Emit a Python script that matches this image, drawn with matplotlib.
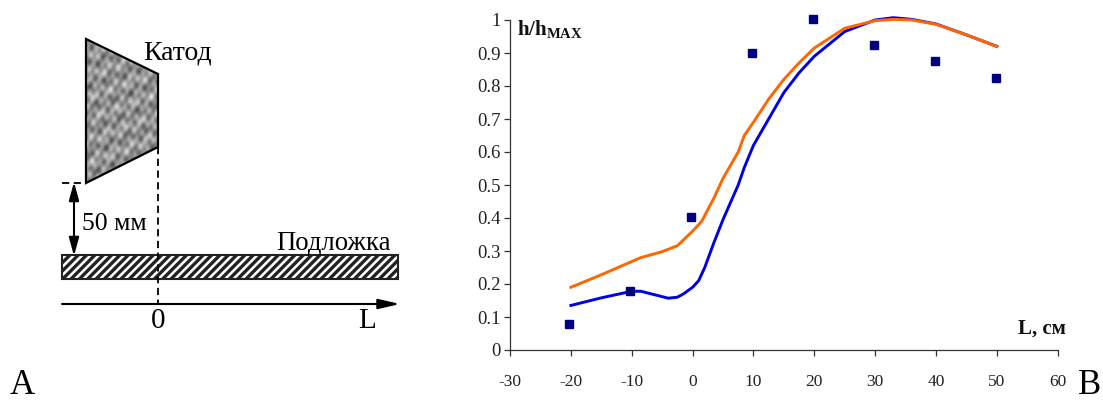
import numpy as np
import matplotlib
matplotlib.use("Agg")
import matplotlib.pyplot as plt
from matplotlib.patches import Polygon, Rectangle

plt.rcParams["font.family"] = ["Liberation Serif", "DejaVu Serif"]
plt.rcParams["hatch.linewidth"] = 2.4
plt.rcParams["axes.unicode_minus"] = False
plt.rcParams["mathtext.fontset"] = "custom"
plt.rcParams["mathtext.bf"] = "Liberation Serif:bold"
plt.rcParams["mathtext.rm"] = "Liberation Serif"

# Chart data
orange_x = [-20, -15, -10, -8.5, -5, -2.5, 0, 1.5, 3.5, 5, 7.5, 8.5, 10, 12.5, 15, 17.5, 20, 25, 30, 33, 36, 40, 45, 50]
orange_y = [0.19, 0.228, 0.268, 0.28, 0.298, 0.316, 0.36, 0.39, 0.46, 0.52, 0.60, 0.65, 0.69, 0.76, 0.82, 0.87, 0.915, 0.975, 0.998, 1.002, 1.0, 0.987, 0.955, 0.92]
blue_x = [-20, -15, -10, -8.5, -4, -2.5, -1.5, 0, 1, 2, 3.5, 5, 7.5, 8.5, 10, 12.5, 15, 17.5, 20, 25, 30, 33, 36, 40, 45, 50]
blue_y = [0.135, 0.158, 0.178, 0.178, 0.157, 0.16, 0.17, 0.19, 0.21, 0.25, 0.325, 0.395, 0.50, 0.553, 0.62, 0.70, 0.78, 0.84, 0.89, 0.965, 1.0, 1.007, 1.002, 0.988, 0.955, 0.92]
points_x = [-20.3, -10.2, -0.2, 9.8, 19.8, 29.8, 39.8, 49.8]
points_y = [0.078, 0.178, 0.404, 0.90, 1.003, 0.925, 0.875, 0.825]
x_ticks = [-30, -20, -10, 0, 10, 20, 30, 40, 50, 60]
y_ticks = [0, 0.1, 0.2, 0.3, 0.4, 0.5, 0.6, 0.7, 0.8, 0.9, 1]
y_labels = ["0", "0.1", "0.2", "0.3", "0.4", "0.5", "0.6", "0.7", "0.8", "0.9", "1"]

W, H = 1103, 403
fig = plt.figure(figsize=(W / 100, H / 100), dpi=100)

# Whole-figure axes in pixel coordinates, for the sketch on the left
bg = fig.add_axes([0, 0, 1, 1])
bg.set_xlim(0, W)
bg.set_ylim(H, 0)
bg.axis("off")

# cathode, mottled grey fill clipped to the trapezoid
yy, xx = np.mgrid[39:183:0.5, 86:158:0.5]
texture = (np.sin(xx * 0.43 + yy * 0.19) + np.sin(xx * 0.23 - yy * 0.47) + np.sin(xx * 0.67 + yy * 0.53)
           + np.sin(xx * 0.11 + yy * 0.29 + 1.3) + 0.8 * np.sin(xx * 0.83 - yy * 0.31))
cathode = Polygon([(86, 39), (158, 74), (158, 147), (86, 183)], closed=True, fc="none", ec="black", lw=1.6, zorder=3)
bg.add_patch(cathode)
im = bg.imshow(texture, extent=(86, 158, 183, 39), cmap="gray", vmin=-9, vmax=6.5, aspect="auto", interpolation="bilinear")
im.set_clip_path(cathode)
bg.set_xlim(0, W)
bg.set_ylim(H, 0)

# substrate and guide lines
bg.add_patch(Rectangle((62, 255), 336, 24, fc="white", ec="#222222", lw=1.5, hatch="////"))
bg.plot([62, 86], [183, 183], color="black", lw=1.3, ls=(0, (4, 2.5)))
bg.plot([158, 158], [147, 304], color="black", lw=1.3, ls=(0, (4, 2.5)), zorder=1)
bg.annotate("", xy=(74, 182), xytext=(74, 256), arrowprops=dict(arrowstyle="<|-|>,head_width=0.3,head_length=1.1", color="black", lw=1.5, shrinkA=0, shrinkB=0))
bg.annotate("", xy=(400, 304), xytext=(62, 304), arrowprops=dict(arrowstyle="-|>,head_width=0.3,head_length=1.3", color="black", lw=1.5, shrinkA=0, shrinkB=0))

bg.text(143, 53, "Катод", fontsize=20, ha="left", va="center")
bg.text(82, 224, "50 мм", fontsize=18.5, ha="left", va="center")
bg.text(276, 243, "Подложка", fontsize=19.3, ha="left", va="center")
bg.text(158, 321, "0", fontsize=21, ha="center", va="center")
bg.text(367, 321, "L", fontsize=21, ha="center", va="center")
bg.text(22, 386, "A", fontsize=25, ha="center", va="center")
bg.text(1090, 385, "B", fontsize=25, ha="center", va="center")

# Chart on the right
ax = fig.add_axes([510 / W, 1 - 350 / H, (1057.7 - 510) / W, 330 / H])
ax.patch.set_alpha(0)
ax.plot(blue_x, blue_y, color="#0000e6", lw=2.1, clip_on=False)
ax.plot(orange_x, orange_y, color="#ff6600", lw=2.1, clip_on=False)
ax.plot(points_x, points_y, ls="none", marker="s", ms=6, color="#000080", clip_on=False)
ax.set_xlim(-30, 60)
ax.set_ylim(0, 1)
ax.set_xticks(x_ticks)
ax.set_yticks(y_ticks, y_labels)
ax.spines[["top", "right"]].set_visible(False)
ax.spines[["left", "bottom"]].set_color("#333333")
ax.spines[["left", "bottom"]].set_linewidth(0.9)
ax.tick_params(axis="both", length=4, width=0.9, color="#333333", labelcolor="#222222")
ax.tick_params(axis="y", labelsize=13.5, pad=2.5)
ax.tick_params(axis="x", labelsize=12.5, pad=13)

bg.text(517, 29, r"$\mathbf{h/h_{MAX}}$", fontsize=15, ha="left", va="center", color="#111111")
bg.text(1018, 329, "L, см", fontsize=15, fontweight="bold", ha="left", va="center", color="#111111")

fig.savefig("out.png", dpi=100)
